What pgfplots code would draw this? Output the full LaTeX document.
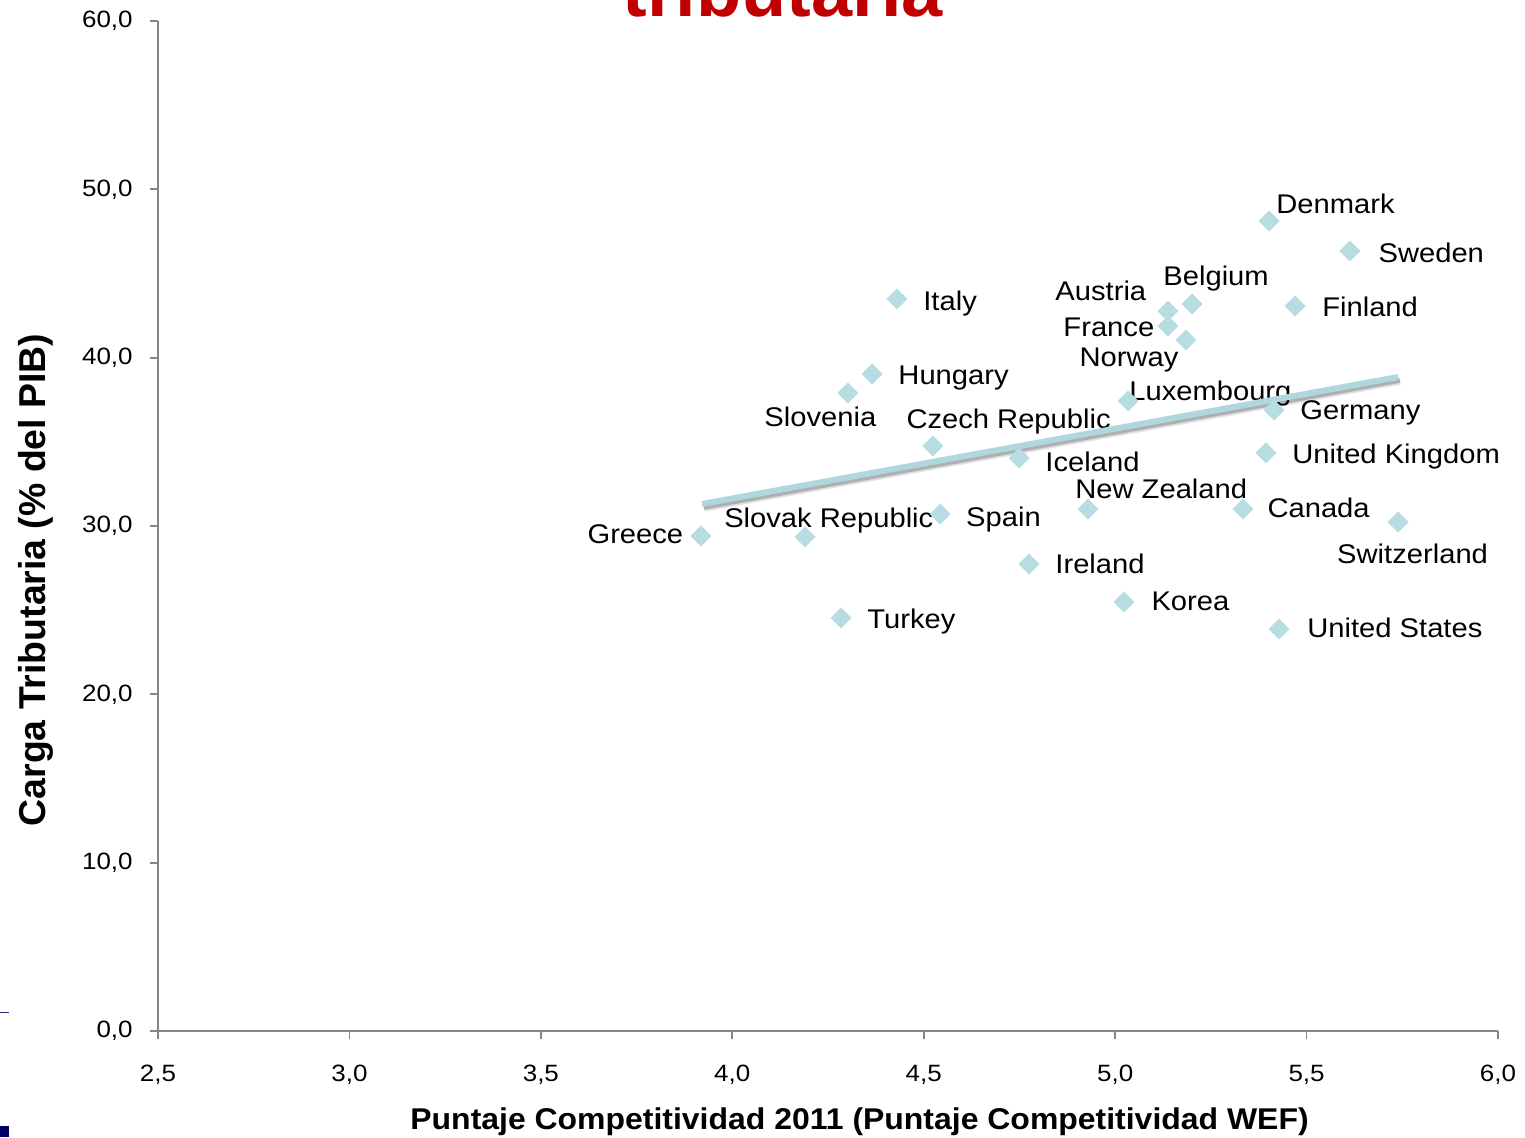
\documentclass[border=0pt]{standalone}
\usepackage{pgfplots}
\pgfplotsset{compat=1.18}
\usepackage{fontspec}
\setmainfont{Liberation Sans}
\newfontfamily\lblfamily[FakeStretch=1.08]{Liberation Sans}
\newfontfamily\tickfamily[FakeStretch=1.1]{Liberation Sans}
\newfontfamily\xlblfamily[FakeStretch=1.065]{Liberation Sans}

\definecolor{markcol}{HTML}{B7DDE3}
\definecolor{axisgray}{HTML}{868686}
\definecolor{titlered}{HTML}{C00000}
\definecolor{navy}{HTML}{000066}

\newcommand\lblfont{\lblfamily\fontsize{13.5}{15}\selectfont}

\begin{document}
\begin{tikzpicture}
\path[use as bounding box] (0,0) rectangle (762.5pt,568.5pt);
\begin{axis}[
    at={(79pt,53pt)}, anchor=south west,
    scale only axis, width=670pt, height=505pt,
    xmin=2.5, xmax=6, ymin=0, ymax=60,
    xtick={2.5,3,3.5,4,4.5,5,5.5,6},
    ytick={0,10,20,30,40,50,60},
    axis lines*=left,
    axis line style={axisgray, line width=1pt},
    tick style={axisgray, line width=0.9pt},
    tick align=outside, major tick length=4pt,
    clip=false,
    ticklabel style={font=\tickfamily\fontsize{11.8}{14}\selectfont, inner sep=0pt},
    xticklabel style={anchor=base, yshift=-21pt},
    yticklabel style={anchor=east, xshift=-8.5pt},
    /pgf/number format/.cd, fixed, fixed zerofill, precision=1, use comma,
        assume math mode=true,
]
% paises
\addplot[only marks, mark=square*, mark size=3.5pt,
         mark options={rotate=45, fill=markcol, draw=markcol}]
coordinates {
    (5.402,48.12) % Denmark
    (5.613,46.34) % Sweden
    (5.470,43.07) % Finland
    (5.201,43.19) % Belgium
    (5.138,42.77) % Austria
    (5.138,41.88) % France
    (5.185,41.05) % Norway
    (5.034,37.43) % Luxembourg
    (5.415,36.89) % Germany
    (5.394,34.34) % United Kingdom
    (5.334,31.01) % Canada
    (5.739,30.24) % Switzerland
    (5.428,23.88) % United States
    (5.023,25.49) % Korea
    (4.929,31.01) % New Zealand
    (4.775,27.74) % Ireland
    (4.749,34.04) % Iceland
    (4.543,30.71) % Spain
    (4.524,34.75) % Czech Republic
    (4.190,29.35) % Slovak Republic
    (3.918,29.41) % Greece
    (4.284,24.54) % Turkey
    (4.430,43.49) % Italy
    (4.365,39.03) % Hungary
    (4.302,37.90) % Slovenia
};

\begin{scope}[every node/.style={anchor=base west, inner sep=0pt, font=\lblfont}]
\node at (axis cs:5.420,48.59) {Denmark};
\node at (axis cs:5.687,45.68) {Sweden};
\node at (axis cs:5.125,44.26) {Belgium};
\node at (axis cs:4.843,43.37) {Austria};
\node at (axis cs:5.540,42.42) {Finland};
\node at (axis cs:4.864,41.23) {France};
\node at (axis cs:4.906,39.45) {Norway};
\node at (axis cs:5.036,37.43) {Luxembourg};
\node at (axis cs:5.483,36.30) {Germany};
\node at (axis cs:4.498,42.83) {Italy};
\node at (axis cs:4.433,38.38) {Hungary};
\node at (axis cs:4.083,35.94) {Slovenia};
\node at (axis cs:4.454,35.82) {Czech Republic};
\node at (axis cs:3.978,29.94) {Slovak Republic};
\node at (axis cs:3.621,28.99) {Greece};
\node at (axis cs:4.610,30.00) {Spain};
\node at (axis cs:4.352,23.94) {Turkey};
\node at (axis cs:4.817,33.21) {Iceland};
\node at (axis cs:4.895,31.66) {New Zealand};
\node at (axis cs:5.462,33.74) {United Kingdom};
\node at (axis cs:5.397,30.48) {Canada};
\node at (axis cs:5.579,27.80) {Switzerland};
\node at (axis cs:4.843,27.15) {Ireland};
\node at (axis cs:5.094,25.01) {Korea};
\node at (axis cs:5.501,23.35) {United States};
\end{scope}

% linea de tendencia con sombra
\addplot[no marks, draw=black, opacity=0.12, line width=3.6pt, xshift=1pt, yshift=-2pt]
    coordinates {(3.921,31.31) (5.739,38.85)};
\addplot[no marks, draw=black, opacity=0.22, line width=2.6pt, xshift=0.8pt, yshift=-1.6pt]
    coordinates {(3.921,31.31) (5.739,38.85)};
\addplot[no marks, draw=markcol!95!teal, line width=3pt]
    coordinates {(3.921,31.31) (5.739,38.85)};
\end{axis}

\node[anchor=base west, inner sep=0pt, text=titlered,
      font=\fontsize{37}{40}\selectfont\bfseries] at (311pt,560pt) {tributaria};
\node[anchor=base, rotate=90, inner sep=0pt,
      font=\fontsize{18.7}{20}\selectfont\bfseries] at (22.5pt,278.5pt)
      {Carga Tributaria (\% del PIB)};
\node[anchor=base west, inner sep=0pt,
      font=\xlblfamily\fontsize{15}{17}\selectfont\bfseries] at (205pt,4pt)
      {Puntaje Competitividad 2011 (Puntaje Competitividad WEF)};

\draw[navy!70!gray, line width=0.5pt] (0,62.5pt) -- (4.5pt,62.5pt);
\fill[navy] (0,0) rectangle (4.5pt,5.5pt);
\end{tikzpicture}
\end{document}
